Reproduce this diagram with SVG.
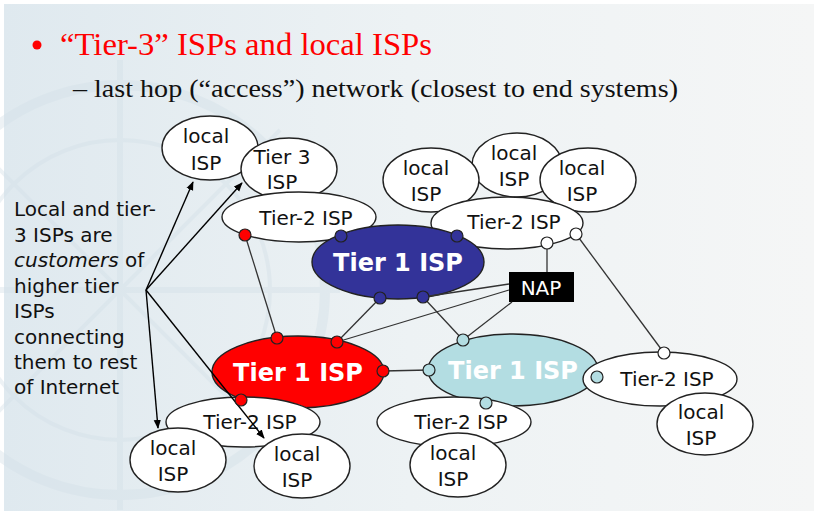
<svg xmlns="http://www.w3.org/2000/svg" width="817" height="514" viewBox="0 0 817 514">
  <defs>
    <linearGradient id="bg" x1="0" y1="0" x2="1" y2="0">
      <stop offset="0" stop-color="#dfe9ef"/>
      <stop offset="0.5" stop-color="#edf2f4"/>
      <stop offset="1" stop-color="#f5f6f6"/>
    </linearGradient>
    <marker id="arrow" viewBox="0 0 10 10" refX="9" refY="5" markerWidth="9" markerHeight="9" markerUnits="userSpaceOnUse" orient="auto">
      <path d="M0,1 L10,5 L0,9 z" fill="#000"/>
    </marker>
    <style>
      .isp { fill: #fff; stroke: #222; stroke-width: 1.4; }
      .lbl { font-family: "DejaVu Sans", Verdana, sans-serif; font-size: 20px; fill: #111; text-anchor: middle; }
      .t1 { stroke: #222; stroke-width: 1.4; }
      .t1lbl { font-family: "DejaVu Sans", Verdana, sans-serif; font-size: 24px; font-weight: bold; fill: #fff; text-anchor: middle; }
      .link { stroke: #333; stroke-width: 1.3; fill: none; }
      .arr { stroke: #000; stroke-width: 1.4; fill: none; marker-end: url(#arrow); }
      .port { stroke: #222; stroke-width: 1.2; }
      .side { font-family: "DejaVu Sans", Verdana, sans-serif; font-size: 20px; fill: #111; }
      .wm { fill: none; stroke: #d3e0e8; stroke-width: 10; opacity: 0.4; }
      .serif { font-family: "Liberation Serif", "Times New Roman", serif; }
    </style>
  </defs>

  <!-- page -->
  <rect width="817" height="514" fill="#fff"/>
  <rect x="4" y="4" width="810" height="507" fill="url(#bg)"/>
  <!-- faint compass watermark -->
  <g class="wm">
    <circle cx="120" cy="290" r="205"/>
    <circle cx="120" cy="290" r="150" stroke-width="4"/>
    <line x1="120" y1="60" x2="120" y2="510" stroke-width="6"/>
    <line x1="-100" y1="290" x2="340" y2="290" stroke-width="6"/>
    <line x1="-40" y1="130" x2="280" y2="450" stroke-width="4"/>
    <line x1="280" y1="130" x2="-40" y2="450" stroke-width="4"/>
  </g>

  <!-- heading -->
  <g id="heading">
    <circle cx="37" cy="45" r="4.5" fill="#ff0000"/>
    <text class="serif" x="60" y="55" font-size="31" fill="#ff0000" textLength="372" lengthAdjust="spacingAndGlyphs">“Tier-3” ISPs and local ISPs</text>
    <text class="serif" x="73" y="97" font-size="26" fill="#111" textLength="605" lengthAdjust="spacingAndGlyphs">– last hop (“access”) network (closest to end systems)</text>
  </g>

  <!-- side note -->
  <g id="note" class="side">
    <text x="14" y="216">Local and tier-</text>
    <text x="14" y="242">3 ISPs are</text>
    <text x="14" y="267"><tspan font-style="italic">customers</tspan> of</text>
    <text x="14" y="293">higher tier</text>
    <text x="14" y="318">ISPs</text>
    <text x="14" y="344">connecting</text>
    <text x="14" y="369">them to rest</text>
    <text x="14" y="394">of Internet</text>
  </g>

  <!-- upper-left cluster -->
  <g id="local-tl">
    <ellipse class="isp" cx="210" cy="148" rx="48" ry="32"/>
    <text class="lbl" x="206" y="143">local</text>
    <text class="lbl" x="206" y="170">ISP</text>
  </g>
  <g id="tier3">
    <ellipse class="isp" cx="289" cy="169" rx="48" ry="31"/>
    <text class="lbl" x="282" y="164">Tier 3</text>
    <text class="lbl" x="282" y="189">ISP</text>
  </g>
  <g id="tier2-ul">
    <ellipse class="isp" cx="299" cy="217" rx="77" ry="25"/>
    <text class="lbl" x="306" y="225">Tier-2 ISP</text>
  </g>

  <!-- upper-right cluster -->
  <g id="local-tr1">
    <ellipse class="isp" cx="517" cy="165" rx="45" ry="32"/>
    <text class="lbl" x="514" y="160">local</text>
    <text class="lbl" x="514" y="186">ISP</text>
  </g>
  <g id="local-tr0">
    <ellipse class="isp" cx="431" cy="180" rx="48" ry="32"/>
    <text class="lbl" x="426" y="175">local</text>
    <text class="lbl" x="426" y="201">ISP</text>
  </g>
  <g id="local-tr2">
    <ellipse class="isp" cx="588" cy="180" rx="48" ry="32"/>
    <text class="lbl" x="582" y="175">local</text>
    <text class="lbl" x="582" y="201">ISP</text>
  </g>
  <g id="tier2-ur">
    <ellipse class="isp" cx="507" cy="223" rx="76" ry="26"/>
    <text class="lbl" x="514" y="229">Tier-2 ISP</text>
  </g>

  <!-- blue backbone -->
  <g id="tier1-blue">
    <ellipse class="t1" cx="398" cy="262" rx="86" ry="37" fill="#333399"/>
    <text class="t1lbl" x="398" y="271">Tier 1 ISP</text>
  </g>

  <!-- red backbone and its customers -->
  <g id="tier1-red">
    <ellipse class="t1" cx="298" cy="372" rx="86" ry="36" fill="#ff0000"/>
    <text class="t1lbl" x="298" y="381">Tier 1 ISP</text>
  </g>
  <g id="tier2-ll">
    <ellipse class="isp" cx="243" cy="422" rx="77" ry="25"/>
    <text class="lbl" x="250" y="429">Tier-2 ISP</text>
  </g>
  <g id="local-ll">
    <ellipse class="isp" cx="178" cy="460" rx="48" ry="32"/>
    <text class="lbl" x="173" y="455">local</text>
    <text class="lbl" x="173" y="481">ISP</text>
  </g>
  <g id="local-lr">
    <ellipse class="isp" cx="302" cy="466" rx="48" ry="32"/>
    <text class="lbl" x="297" y="461">local</text>
    <text class="lbl" x="297" y="487">ISP</text>
  </g>

  <!-- light-blue backbone and its customers -->
  <g id="tier1-cyan">
    <ellipse class="t1" cx="513" cy="370" rx="85" ry="36" fill="#b3dde2"/>
    <text class="t1lbl" x="513" y="379">Tier 1 ISP</text>
  </g>
  <g id="tier2-lm">
    <ellipse class="isp" cx="454" cy="422" rx="77" ry="25"/>
    <text class="lbl" x="461" y="429">Tier-2 ISP</text>
  </g>
  <g id="local-lm">
    <ellipse class="isp" cx="458" cy="465" rx="48" ry="32"/>
    <text class="lbl" x="453" y="460">local</text>
    <text class="lbl" x="453" y="486">ISP</text>
  </g>
  <g id="tier2-lr">
    <ellipse class="isp" cx="660" cy="379" rx="77" ry="27"/>
    <text class="lbl" x="667" y="386">Tier-2 ISP</text>
  </g>
  <g id="local-rr">
    <ellipse class="isp" cx="705" cy="424" rx="48" ry="31"/>
    <text class="lbl" x="701" y="419">local</text>
    <text class="lbl" x="701" y="445">ISP</text>
  </g>

  <!-- exchange point -->
  <g id="nap">
    <rect x="509" y="272" width="65" height="30" fill="#000"/>
    <text x="541" y="295" font-family="'DejaVu Sans', Verdana, sans-serif" font-size="20" fill="#fff" text-anchor="middle">NAP</text>
  </g>

  <!-- links and pointer arrows -->
  <g id="connectors">
    <line class="link" x1="245" y1="235" x2="277" y2="338"/>
    <line class="link" x1="380" y1="298" x2="337" y2="342"/>
    <line class="link" x1="423" y1="297" x2="463" y2="340"/>
    <line class="link" x1="383" y1="371" x2="429" y2="370"/>
    <line class="link" x1="547" y1="243" x2="547" y2="272"/>
    <line class="link" x1="576" y1="234" x2="664" y2="353"/>
    <line class="link" x1="509" y1="284" x2="423" y2="297"/>
    <line class="link" x1="509" y1="290" x2="337" y2="342"/>
    <line class="link" x1="512" y1="302" x2="463" y2="340"/>
    <line class="arr" x1="146" y1="290" x2="193" y2="182"/>
    <line class="arr" x1="146" y1="290" x2="242" y2="183"/>
    <line class="arr" x1="146" y1="290" x2="158" y2="428"/>
    <line class="arr" x1="146" y1="290" x2="264" y2="438"/>
  </g>

  <!-- attachment ports -->
  <g id="ports">
    <circle class="port" cx="245" cy="235" r="6" fill="#ff0000"/>
    <circle class="port" cx="341" cy="236" r="6" fill="#333399"/>
    <circle class="port" cx="457" cy="236" r="6" fill="#333399"/>
    <circle class="port" cx="380" cy="298" r="6" fill="#333399"/>
    <circle class="port" cx="423" cy="297" r="6" fill="#333399"/>
    <circle class="port" cx="547" cy="243" r="6" fill="#fff"/>
    <circle class="port" cx="576" cy="234" r="6" fill="#fff"/>
    <circle class="port" cx="277" cy="338" r="6" fill="#ff0000"/>
    <circle class="port" cx="337" cy="342" r="6" fill="#ff0000"/>
    <circle class="port" cx="383" cy="371" r="6" fill="#ff0000"/>
    <circle class="port" cx="241" cy="400" r="6" fill="#ff0000"/>
    <circle class="port" cx="463" cy="340" r="6" fill="#b3dde2"/>
    <circle class="port" cx="429" cy="370" r="6" fill="#b3dde2"/>
    <circle class="port" cx="597" cy="377" r="6" fill="#b3dde2"/>
    <circle class="port" cx="486" cy="403" r="6" fill="#b3dde2"/>
    <circle class="port" cx="664" cy="353" r="6" fill="#fff"/>
  </g>
</svg>
